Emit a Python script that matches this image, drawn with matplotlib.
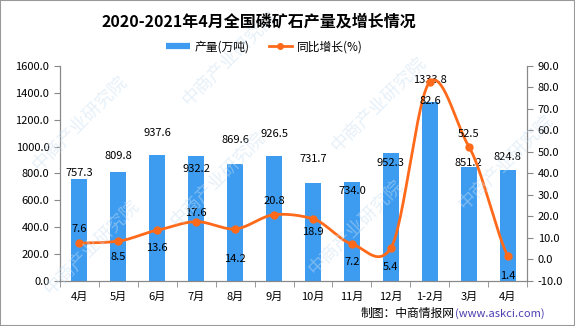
import numpy as np
import matplotlib
matplotlib.use("Agg")
import matplotlib.pyplot as plt
from matplotlib.patches import Rectangle
from matplotlib.lines import Line2D

plt.rcParams['font.family'] = ['Noto Sans CJK SC', 'DejaVu Sans']
plt.rcParams['font.size'] = 8

months = ['4月', '5月', '6月', '7月', '8月', '9月', '10月', '11月', '12月', '1-2月', '3月', '4月']
output = [757.3, 809.8, 937.6, 932.2, 869.6, 926.5, 731.7, 734.0, 952.3, 1333.8, 851.2, 824.8]
growth = [7.6, 8.5, 13.6, 17.6, 14.2, 20.8, 18.9, 7.2, 5.4, 82.6, 52.5, 1.4]

# label offsets in pixels (label centre relative to the mark)
bar_dy = [6, 16, 22, -13, 24, 22, 24, -9, -10, 22, 4, 13]
line_dy = [14, -16, -18, 9, -30, 14, -13, -18, -19, -19, 13, -20]

blue = '#3d9cf0'
orange = '#ff6a1a'

fig = plt.figure(figsize=(5.75, 3.26), dpi=100)
ax = fig.add_axes([0.104, 0.138, 0.813, 0.66])
ax2 = ax.twinx()

x = np.arange(len(months))
ax.bar(x, output, width=0.42, color=blue, zorder=2)
ax.set_xlim(-0.5, len(months) - 0.5)
ax.set_ylim(0, 1600)
ax.set_yticks(np.arange(0, 1601, 200))
ax.set_yticklabels([f'{v:.1f}' for v in np.arange(0, 1601, 200)])
ax.set_xticks(x)
ax.set_xticklabels(months)
ax.set_xticks(np.arange(-0.5, len(months)), minor=True)
ax.tick_params(axis='x', which='major', length=0, pad=8)
ax.tick_params(axis='x', which='minor', length=4, color='#888888')
ax.tick_params(axis='y', length=4, color='#888888')
for v, xi, dy in zip(output, x, bar_dy):
    ax.annotate(f'{v:.1f}', (xi, v), xytext=(0, dy), textcoords='offset pixels',
                ha='center', va='center', fontsize=8, zorder=5)

# smoothed curve through the growth points (cardinal spline)
g = np.array(growth, dtype=float)
tension = 0.75
m = np.zeros_like(g)
m[1:-1] = tension * (g[2:] - g[:-2]) / 2
m[0] = tension * (g[1] - g[0])
m[-1] = tension * (g[-1] - g[-2])
t = np.linspace(0, 1, 30)
h00 = 2 * t**3 - 3 * t**2 + 1
h10 = t**3 - 2 * t**2 + t
h01 = -2 * t**3 + 3 * t**2
h11 = t**3 - t**2
cx, cy = [], []
for i in range(len(g) - 1):
    cx.extend(x[i] + t)
    cy.extend(h00 * g[i] + h10 * m[i] + h01 * g[i + 1] + h11 * m[i + 1])
ax2.plot(cx, cy, color=orange, lw=2, zorder=3)
ax2.plot(x, g, 'o', color=orange, ms=5, zorder=4)
ax2.set_ylim(-10, 90)
ax2.set_yticks(np.arange(-10, 91, 10))
ax2.set_yticklabels([f'{v:.1f}' for v in np.arange(-10, 91, 10)])
ax2.tick_params(axis='y', length=4, color='#888888')
for v, xi, dy in zip(growth, x, line_dy):
    ax2.annotate(f'{v:.1f}', (xi, v), xytext=(0, dy), textcoords='offset pixels',
                 ha='center', va='center', fontsize=8, zorder=5)

for a in (ax, ax2):
    a.spines['top'].set_visible(False)
    for s in ('left', 'right', 'bottom'):
        a.spines[s].set_color('#888888')

handles = [Line2D([], [], color=blue, lw=4.5, solid_capstyle='butt'),
           Line2D([], [], color=orange, lw=2, marker='o', ms=4)]
fig.legend(handles, ['产量(万吨)', '同比增长(%)'], loc='center', bbox_to_anchor=(0.46, 0.856),
           ncol=2, frameon=False, fontsize=8.5, handlelength=2.0, handletextpad=0.4,
           columnspacing=1.6)

fig.text(0.45, 0.933, '2020-2021年4月全国磷矿石产量及增长情况', ha='center', va='center',
         fontsize=11.5, fontweight='bold')
fig.text(0.791, 0.037, '制图：中商情报网', ha='right', va='center', fontsize=8.5)
fig.text(0.791, 0.037, '(www.askci.com)', ha='left', va='center', fontsize=8, color='#4b3fb0')

# watermark
for wx, wy in [(0.14, 0.62), (0.38, 0.45), (0.62, 0.3), (0.4, 0.82), (0.66, 0.68), (0.88, 0.5), (0.16, 0.24)]:
    fig.text(wx, wy, '中商产业研究院', rotation=45, fontsize=13, color='#c9dff2',
             alpha=0.45, ha='center', va='center', zorder=0)

fig.patches.append(Rectangle((0, 0), 1, 1, transform=fig.transFigure, fill=False,
                             edgecolor='#999999', lw=1.5))
fig.savefig('out.png', dpi=100)
